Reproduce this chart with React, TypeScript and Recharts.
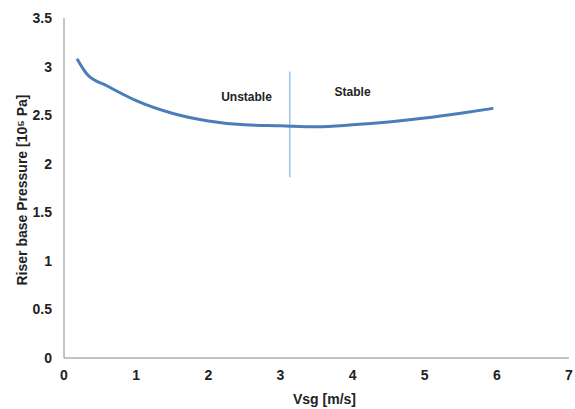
import { LineChart, Line, XAxis, YAxis, ReferenceLine, ReferenceDot } from 'recharts';

// Superficial gas velocity [m/s]
const vsg = [0.18, 0.32, 0.6, 1.0, 1.5, 2.0, 2.5, 3.0, 3.5, 4.0, 4.5, 5.0, 5.5, 5.95];
// Riser base pressure [10^5 Pa]
const pressure = [3.08, 2.92, 2.8, 2.65, 2.52, 2.44, 2.4, 2.39, 2.38, 2.4, 2.43, 2.47, 2.52, 2.57];

const xTicks = [0, 1, 2, 3, 4, 5, 6, 7];
const yTicks = [0, 0.5, 1, 1.5, 2, 2.5, 3, 3.5];

// boundary between the two regimes
const boundaryX = 3.13;
const boundaryY = [1.86, 2.95];

const data = vsg.map((v, i) => ({ vsg: v, p: pressure[i] }));

const tickStyle = { fontFamily: 'Liberation Sans, Arial, sans-serif', fontSize: 14, fontWeight: 700, fill: '#222' };

export default function App() {
  return (
    <div style={{ position: 'absolute', left: 0, top: 0, background: '#fff' }}>
      <LineChart width={575} height={409} data={data} margin={{ top: 18, right: 6, bottom: 21, left: 34 }}>
        <XAxis
          type='number'
          dataKey='vsg'
          domain={[0, 7]}
          ticks={xTicks}
          tickLine={false}
          tickSize={0}
          tickMargin={12}
          height={30}
          stroke='#888888'
          tick={tickStyle}
          label={{ value: 'Vsg [m/s]', position: 'bottom', offset: 6, dx: 8, style: { ...tickStyle, fontSize: 14 } }}
        />
        <YAxis
          type='number'
          domain={[0, 3.5]}
          ticks={yTicks}
          tickLine={false}
          tickSize={0}
          tickMargin={12}
          width={30}
          stroke='#888888'
          tick={tickStyle}
          label={{
            value: 'Riser base Pressure [10⁵ Pa]',
            angle: -90,
            position: 'insideLeft',
            dx: -17,
            dy: 2,
            style: { ...tickStyle, fontSize: 14, textAnchor: 'middle' },
          }}
        />
        <ReferenceLine
          segment={[{ x: boundaryX, y: boundaryY[0] }, { x: boundaryX, y: boundaryY[1] }]}
          stroke='#9dc3e6'
          strokeWidth={1.5}
        />
        <ReferenceDot
          x={2.53}
          y={2.69}
          r={0}
          fill='none'
          stroke='none'
          label={{ value: 'Unstable', position: 'center', style: { ...tickStyle, fontSize: 12 } }}
        />
        <ReferenceDot
          x={4.0}
          y={2.74}
          r={0}
          fill='none'
          stroke='none'
          label={{ value: 'Stable', position: 'center', style: { ...tickStyle, fontSize: 12 } }}
        />
        <Line
          type='monotone'
          dataKey='p'
          stroke='#4a7ebb'
          strokeWidth={3}
          dot={false}
          isAnimationActive={false}
        />
      </LineChart>
    </div>
  );
}
